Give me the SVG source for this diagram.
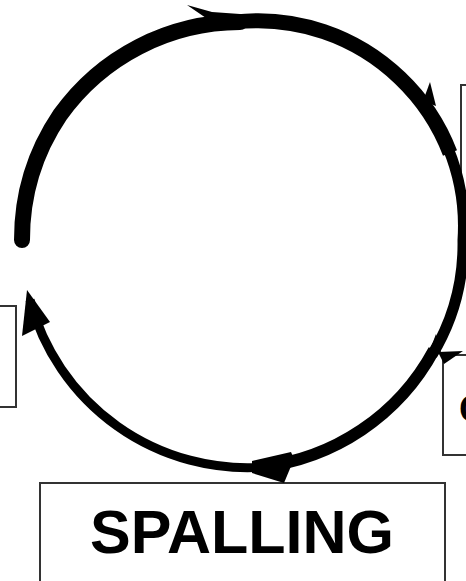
<svg xmlns="http://www.w3.org/2000/svg" width="466" height="581" viewBox="0 0 466 581">
<style>
.box{fill:#fff;stroke:#333;stroke-width:2}
.arc{fill:none;stroke:#000}
.head{fill:#000;stroke:none}
.lbl{font-family:"Liberation Sans",Arial,sans-serif;font-weight:bold;fill:#000}
</style>
<rect width="466" height="581" fill="#fff"/>
<g id="node-left"><rect class="box" x="-3" y="306" width="19" height="101"/></g>
<g id="node-right-top"><rect class="box" x="461" y="85" width="12" height="110"/></g>
<g id="node-right-bottom"><rect class="box" x="443" y="355" width="30" height="100"/><text class="lbl" x="459" y="422" font-size="38">C</text></g>
<g id="node-spalling"><rect class="box" x="40" y="483" width="405" height="110"/><text class="lbl" x="242" y="553" font-size="61" text-anchor="middle">SPALLING</text></g>
<g id="connectors">
<path class="arc" style="stroke-linecap:round" stroke-width="16" d="M 22 240 A 222 222 0 0 1 60 115 A 222 222 0 0 1 240 22"/>
<path class="arc" stroke-width="15" d="M 235 22 A 205 205 0 0 1 400 78 A 205 205 0 0 1 450 153"/>
<path class="arc" stroke-width="11" d="M 448 148 A 205 205 0 0 1 463 240 A 215 215 0 0 1 432 355"/>
<path class="arc" stroke-width="12" d="M 434 350 A 225 225 0 0 1 260 467"/>
<path class="arc" stroke-width="9" d="M 265 467 A 225 225 0 0 1 30 300"/>
<polygon class="head" points="187,5 212,12 240,14 240,24 206,18"/>
<polygon class="head" points="430,82 436,106 423,101"/>
<polygon class="head" points="463,351 438,352 444,364"/>
<polygon class="head" points="436,334 441,352 430,350"/>
<polygon class="head" points="291,452 294,459 284,483 252,473 252,461"/>
<polygon class="head" points="27,290 22,336 50,322"/>
</g>
</svg>
